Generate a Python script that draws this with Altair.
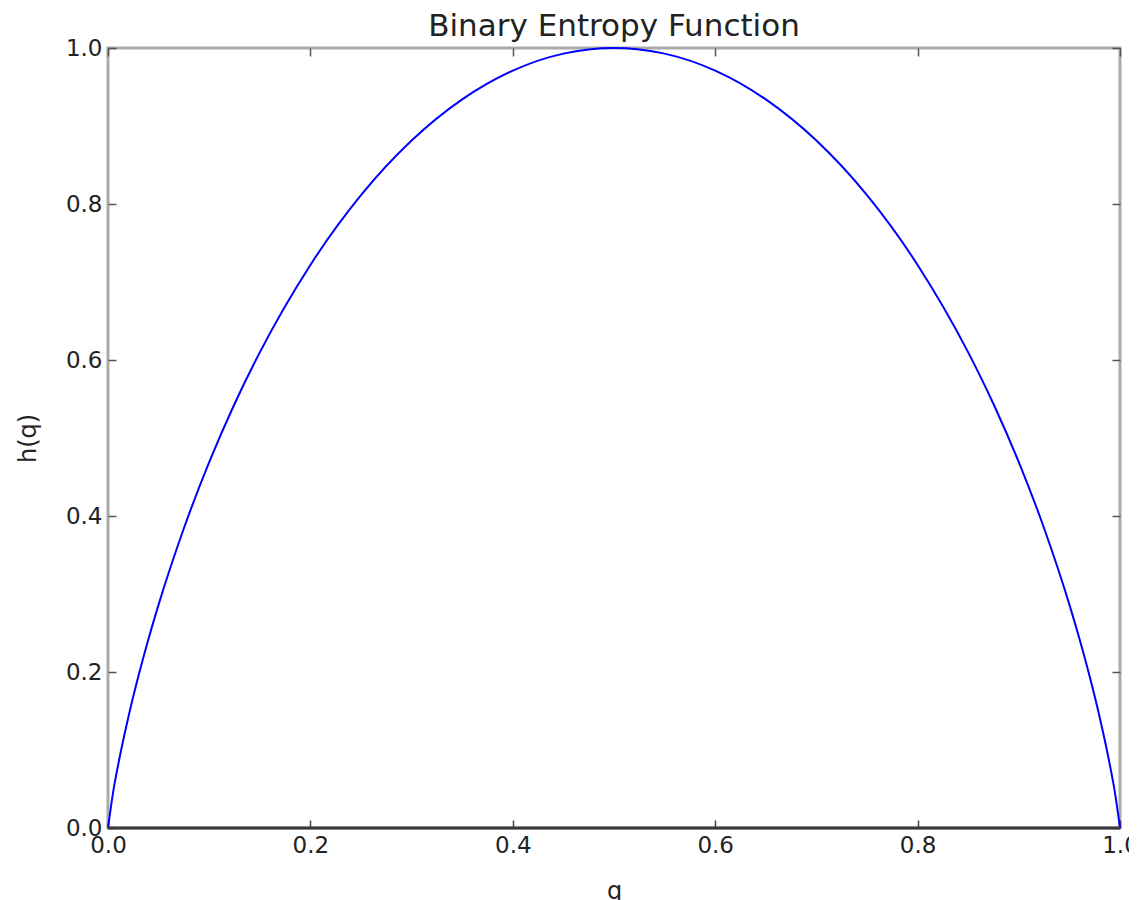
import altair as alt
import pandas as pd

q_vals = [0.0, 0.005, 0.01, 0.02, 0.03, 0.04, 0.05, 0.075, 0.1, 0.125, 0.15, 0.2,
          0.25, 0.3, 0.35, 0.4, 0.45, 0.5, 0.55, 0.6, 0.65, 0.7, 0.75, 0.8,
          0.85, 0.875, 0.9, 0.925, 0.95, 0.96, 0.97, 0.98, 0.99, 0.995, 1.0]
h_vals = [0.0, 0.0454, 0.0808, 0.1414, 0.1944, 0.2423, 0.2864, 0.3843, 0.4690, 0.5436,
          0.6098, 0.7219, 0.8113, 0.8813, 0.9341, 0.9710, 0.9928, 1.0, 0.9928, 0.9710,
          0.9341, 0.8813, 0.8113, 0.7219, 0.6098, 0.5436, 0.4690, 0.3843, 0.2864,
          0.2423, 0.1944, 0.1414, 0.0808, 0.0454, 0.0]
tick_vals = [0.0, 0.2, 0.4, 0.6, 0.8, 1.0]

df = pd.DataFrame({"q": q_vals, "h": h_vals})
FONT = "DejaVu Sans"

x_scale = alt.Scale(domain=[0, 1], nice=False, zero=False)
y_scale = alt.Scale(domain=[0, 1], nice=False, zero=False)

main = alt.Chart(df).mark_line(color="#0000ff", strokeWidth=2, interpolate="monotone").encode(
    x=alt.X("q:Q", scale=x_scale, title="q",
            axis=alt.Axis(orient="bottom", values=tick_vals, format=".1f", domain=False,
                          offset=-8, tickSize=8, tickColor="#444", tickWidth=1.5,
                          labelFont=FONT, labelFontSize=23, labelColor="#222",
                          labelPadding=6, labelFlush=False,
                          titleFont=FONT, titleFontSize=24, titleFontWeight="normal",
                          titleColor="#222", titlePadding=22, grid=False)),
    y=alt.Y("h:Q", scale=y_scale, title="h(q)",
            axis=alt.Axis(orient="left", values=tick_vals, format=".1f", domain=False,
                          offset=-8, tickSize=8, tickColor="#555", tickWidth=1.5,
                          labelFont=FONT, labelFontSize=23, labelColor="#222",
                          labelPadding=6, labelFlush=False,
                          titleFont=FONT, titleFontSize=24, titleFontWeight="normal",
                          titleColor="#222", titlePadding=25, grid=False)),
)

twin = alt.Chart(df).mark_line(opacity=0).encode(
    x=alt.X("q:Q", scale=x_scale,
            axis=alt.Axis(orient="top", values=tick_vals, domain=False, labels=False,
                          title=None, offset=-8, tickSize=8, tickColor="#555",
                          tickWidth=1.5, grid=False)),
    y=alt.Y("h:Q", scale=y_scale,
            axis=alt.Axis(orient="right", values=tick_vals, domain=False, labels=False,
                          title=None, offset=-8, tickSize=8, tickColor="#555",
                          tickWidth=1.5, grid=False)),
)

base_line = alt.Chart(pd.DataFrame({"h": [0.0]})).mark_rule(
    color="#3a3a3a", strokeWidth=3
).encode(y=alt.Y("h:Q", scale=y_scale, axis=None))

chart = alt.layer(main, twin, base_line).resolve_axis(x="independent", y="independent").properties(
    width=1012,
    height=780,
    title=alt.TitleParams("Binary Entropy Function", font=FONT, fontSize=31,
                          fontWeight="normal", color="#222", offset=-6),
    autosize=alt.AutoSizeParams(type="none"),
    padding={"left": 100, "top": 40, "right": 9, "bottom": 90},
).configure_view(stroke="#aaaaaa", strokeWidth=3)

chart.save("out.html", embed_options={"renderer": "svg", "actions": False})
